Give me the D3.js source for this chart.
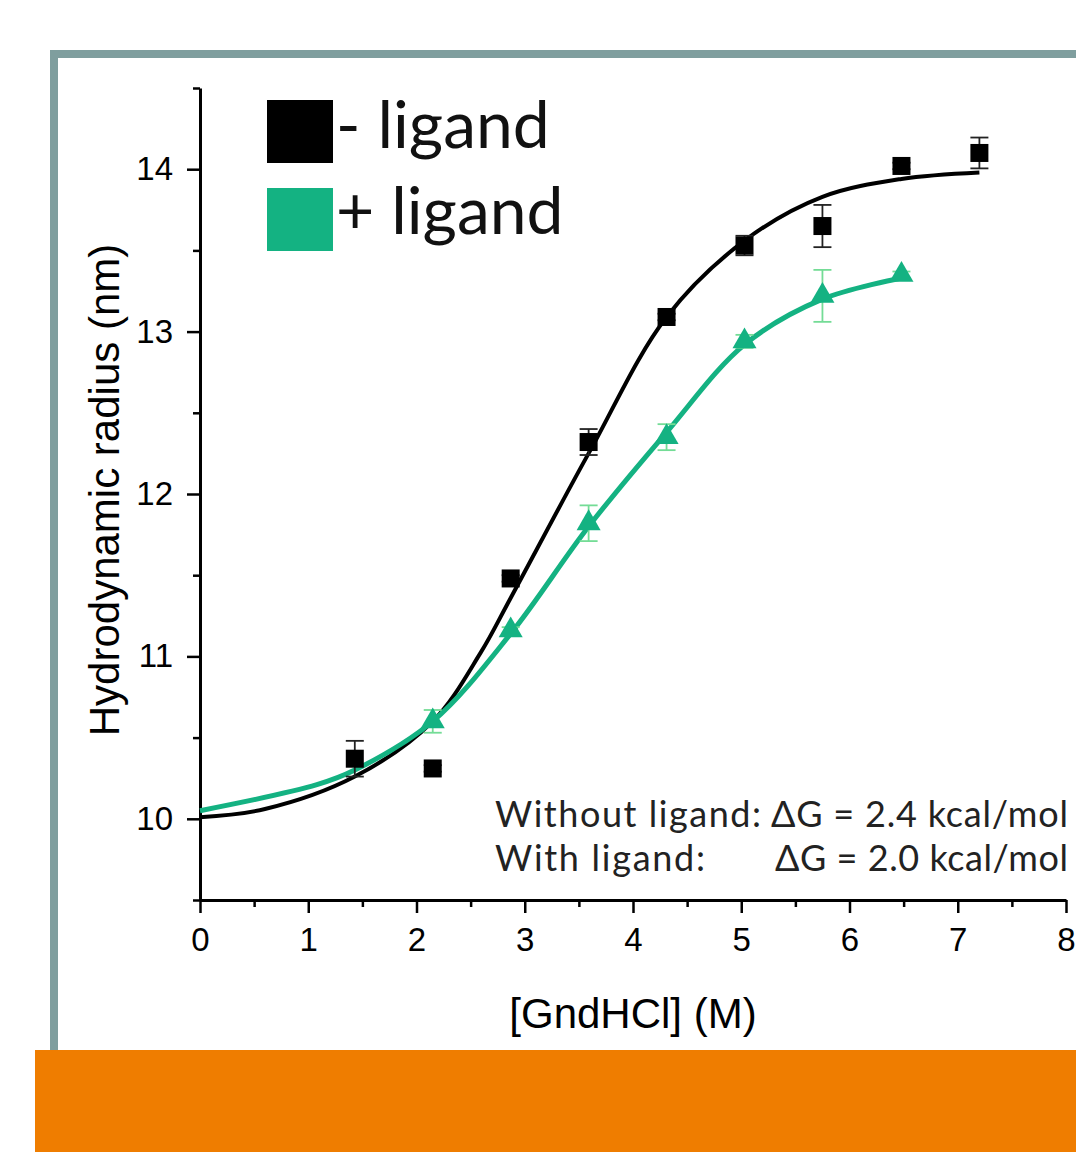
<!DOCTYPE html>
<html>
<head>
<meta charset="utf-8">
<script src="https://cdn.jsdelivr.net/npm/d3@7"></script>
<style>
  body { margin: 0; background: #fff; }
  svg { display: block; }
</style>
</head>
<body>
<div id="chart"></div>
<script>
// measured points, - ligand (squares)
const conc = [1.43, 2.15, 2.87, 3.59, 4.31, 5.03, 5.75, 6.48, 7.20];
const radiusNoLigand = [10.37, 10.31, 11.48, 12.32, 13.09, 13.53, 13.65, 14.02, 14.10];
const errNoLigand = [0.11, 0.02, 0.02, 0.08, 0.02, 0.06, 0.13, 0.02, 0.095];

// measured points, + ligand (triangles)
const concLigand = [2.15, 2.87, 3.59, 4.31, 5.03, 5.75, 6.48];
const radiusLigand = [10.60, 11.16, 11.82, 12.35, 12.94, 13.22, 13.35];
const errLigand = [0.07, 0.02, 0.11, 0.08, 0.04, 0.16, 0.02];

// fitted curves
const fitXNoLigand = [0, 0.6, 1.43, 2.15, 2.59, 2.87, 3.59, 4.31, 5.03, 5.75, 6.48, 7.20];
const fitNoLigand = [10.01, 10.06, 10.26, 10.60, 11.02, 11.36, 12.25, 13.09, 13.56, 13.83, 13.94, 13.98];
const fitXLigand = [0, 1.08, 1.43, 2.15, 2.87, 3.59, 4.31, 5.03, 5.75, 6.48];
const fitLigand = [10.05, 10.21, 10.30, 10.60, 11.14, 11.80, 12.38, 12.92, 13.20, 13.33];

const xTicks = [0, 1, 2, 3, 4, 5, 6, 7, 8];
const yTicks = [10, 11, 12, 13, 14];
const legendLabels = ["- ligand", "+ ligand"];
const notes = ["Without ligand:", "ΔG = 2.4 kcal/mol", "With ligand:", "ΔG = 2.0 kcal/mol"];

const black = "#000";
const green = "#14b282";
const greenErr = "#74dc96";

const width = 1076, height = 1152;

const svg = d3.select("#chart").append("svg")
    .attr("width", width)
    .attr("height", height);

// frame
svg.append("rect")
    .attr("x", 54).attr("y", 54)
    .attr("width", 1100).attr("height", 1100)
    .attr("fill", "none")
    .attr("stroke", "#7f9e9e")
    .attr("stroke-width", 8);

const x = d3.scaleLinear().domain([0, 8]).range([200, 1066]);
const y = d3.scaleLinear().domain([9.5, 14.5]).range([900, 88]);

const halfX = d3.range(0.5, 8, 1);
const halfY = d3.range(9.5, 14.6, 1);

// x axis
const gx = svg.append("g").attr("transform", "translate(0,900)");
gx.call(d3.axisBottom(x).tickValues(xTicks).tickSize(13).tickSizeOuter(0).tickPadding(15).tickFormat(d3.format("d")));
gx.append("g").call(d3.axisBottom(x).tickValues(halfX).tickSize(7).tickFormat(""))
    .select(".domain").remove();

// y axis
const gy = svg.append("g").attr("transform", "translate(200,0)");
gy.call(d3.axisLeft(y).tickValues(yTicks).tickSize(13).tickSizeOuter(0).tickPadding(14).tickFormat(d3.format("d")));
gy.append("g").call(d3.axisLeft(y).tickValues(halfY).tickSize(7).tickFormat(""))
    .select(".domain").remove();

svg.selectAll(".domain").attr("stroke", black).attr("stroke-width", 3);
svg.selectAll(".tick line").attr("stroke", black).attr("stroke-width", 2.5);
svg.selectAll(".tick text")
    .attr("font-family", "Liberation Sans, Arial, sans-serif")
    .attr("font-size", 33)
    .attr("fill", black);

// axis titles
svg.append("text")
    .attr("x", 633).attr("y", 1028)
    .attr("text-anchor", "middle")
    .attr("font-family", "Liberation Sans, Arial, sans-serif")
    .attr("font-size", 42)
    .text("[GndHCl] (M)");

svg.append("text")
    .attr("transform", "translate(119,490) rotate(-90)")
    .attr("text-anchor", "middle")
    .attr("font-family", "Liberation Sans, Arial, sans-serif")
    .attr("font-size", 42)
    .text("Hydrodynamic radius (nm)");

// fit curves
const line = d3.line()
    .x(d => x(d[0]))
    .y(d => y(d[1]))
    .curve(d3.curveCatmullRom.alpha(0.5));

svg.append("path")
    .datum(d3.zip(fitXNoLigand, fitNoLigand))
    .attr("fill", "none")
    .attr("stroke", black)
    .attr("stroke-width", 4)
    .attr("d", line);

svg.append("path")
    .datum(d3.zip(fitXLigand, fitLigand))
    .attr("fill", "none")
    .attr("stroke", green)
    .attr("stroke-width", 5)
    .attr("d", line);

// error bars
function errorBars(xs, ys, es, color) {
    const g = svg.append("g").attr("stroke", color).attr("stroke-width", 1.8);
    xs.forEach((cx, i) => {
        const px = x(cx), top = y(ys[i] + es[i]), bot = y(ys[i] - es[i]);
        g.append("line").attr("x1", px).attr("x2", px).attr("y1", top).attr("y2", bot);
        g.append("line").attr("x1", px - 9).attr("x2", px + 9).attr("y1", top).attr("y2", top);
        g.append("line").attr("x1", px - 9).attr("x2", px + 9).attr("y1", bot).attr("y2", bot);
    });
}
errorBars(conc, radiusNoLigand, errNoLigand, "#222");
errorBars(concLigand, radiusLigand, errLigand, greenErr);

// markers
svg.append("g").selectAll("rect")
    .data(d3.zip(conc, radiusNoLigand))
    .join("rect")
    .attr("x", d => x(d[0]) - 9)
    .attr("y", d => y(d[1]) - 9)
    .attr("width", 18).attr("height", 18)
    .attr("fill", black);

const tri = d3.symbol().type(d3.symbolTriangle).size(250);
svg.append("g").selectAll("path")
    .data(d3.zip(concLigand, radiusLigand))
    .join("path")
    .attr("transform", d => `translate(${x(d[0])},${y(d[1])})`)
    .attr("d", tri)
    .attr("fill", green);

// legend
const legend = svg.append("g");
[black, green].forEach((c, i) => {
    legend.append("rect")
        .attr("x", 267).attr("y", 100 + i * 88)
        .attr("width", 66).attr("height", 63)
        .attr("fill", c);
    legend.append("text")
        .attr("x", 336).attr("y", 148 + i * 86)
        .attr("font-family", "Lato, sans-serif")
        .attr("font-size", 66)
        .attr("fill", "#111")
        .text(legendLabels[i]);
});

// annotation
const note = svg.append("g")
    .attr("font-family", "Lato, sans-serif")
    .attr("font-size", 36)
    .attr("fill", "#222");
note.append("text").attr("x", 495).attr("y", 827)
    .attr("textLength", 266).attr("lengthAdjust", "spacing").text(notes[0]);
note.append("text").attr("x", 771).attr("y", 827)
    .attr("textLength", 297).attr("lengthAdjust", "spacing").text(notes[1]);
note.append("text").attr("x", 495).attr("y", 871)
    .attr("textLength", 210).attr("lengthAdjust", "spacing").text(notes[2]);
note.append("text").attr("x", 775).attr("y", 871)
    .attr("textLength", 293).attr("lengthAdjust", "spacing").text(notes[3]);

// orange band
svg.append("rect")
    .attr("x", 35).attr("y", 1050)
    .attr("width", width - 35).attr("height", height - 1050)
    .attr("fill", "#ef7d00");
</script>
</body>
</html>
